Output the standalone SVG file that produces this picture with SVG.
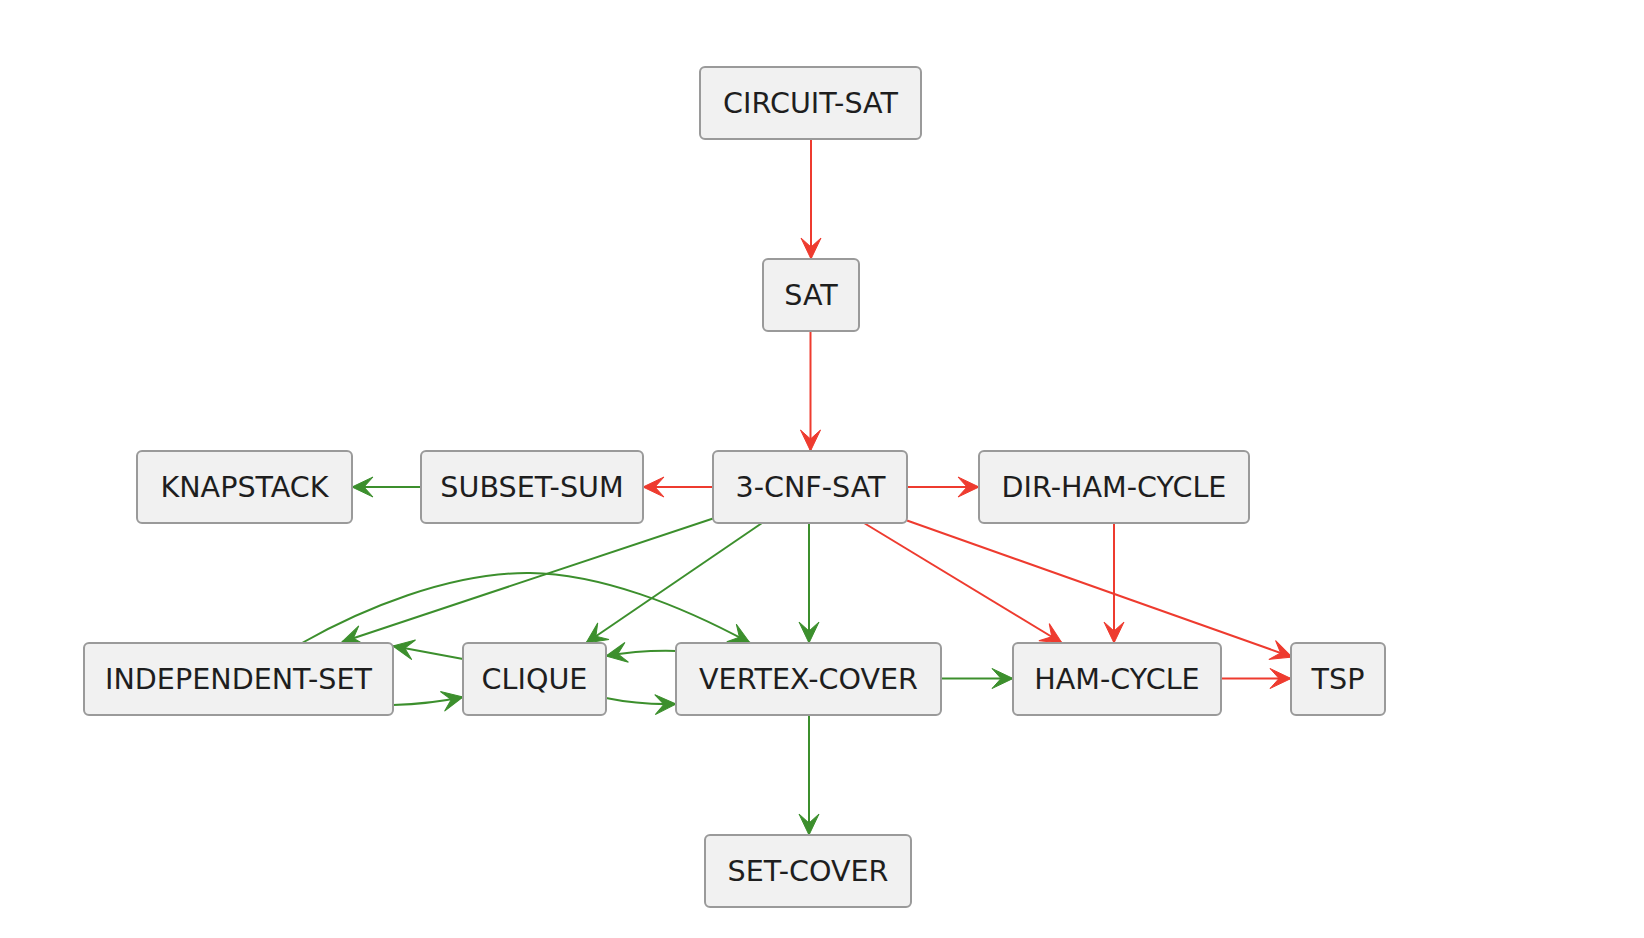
<svg xmlns="http://www.w3.org/2000/svg" width="1644" height="938" viewBox="0 0 1644 938">
  <style>
    .node rect { fill: #F1F1F1; stroke: #9A9A9A; stroke-width: 2; }
    .node text { font-family: "DejaVu Sans", "Liberation Sans", sans-serif; font-size: 28.6px; fill: #1E1E1E; text-anchor: middle; }
    .red { stroke: #EE3B2F; stroke-width: 2; fill: none; marker-end: url(#arrowRed); }
    .green { stroke: #3C8F2D; stroke-width: 2; fill: none; marker-end: url(#arrowGreen); }
  </style>
  <defs>
    <marker id="arrowRed" viewBox="-23 -12 25 24" refX="0" refY="0" markerWidth="25" markerHeight="24" markerUnits="userSpaceOnUse" orient="auto">
      <path d="M0,0 L-21,-10 L-12,0 L-21,10 Z" fill="#EE3B2F" stroke="#EE3B2F" stroke-width="1" stroke-linejoin="miter"/>
    </marker>
    <marker id="arrowGreen" viewBox="-23 -12 25 24" refX="0" refY="0" markerWidth="25" markerHeight="24" markerUnits="userSpaceOnUse" orient="auto">
      <path d="M0,0 L-21,-10 L-12,0 L-21,10 Z" fill="#3C8F2D" stroke="#3C8F2D" stroke-width="1" stroke-linejoin="miter"/>
    </marker>
  </defs>
  <rect x="0" y="0" width="1644" height="938" fill="#FFFFFF"/>

  <g id="connectors">
    <path class="red" d="M811,139 L811,259"/>
    <path class="red" d="M810.5,331 L810.5,451"/>
    <path class="red" d="M713,487 L643,487"/>
    <path class="red" d="M907,487 L979,487"/>
    <path class="red" d="M864,523 L1062,643"/>
    <path class="red" d="M907,520.5 L1292,657"/>
    <path class="red" d="M1114,523 L1114,643"/>
    <path class="red" d="M1221,678.5 L1291,678.5"/>
    <path class="green" d="M421,487 L352,487"/>
    <path class="green" d="M809,523 L809,643"/>
    <path class="green" d="M762,523 L586,643"/>
    <path class="green" d="M713,518.5 L342,642"/>
    <path class="green" d="M302,643 C360,610 450,572 530,573 C600,574 680,605 750,643"/>
    <path class="green" d="M463,659 L393,646"/>
    <path class="green" d="M393,705 Q430,704 463,697"/>
    <path class="green" d="M676,651 Q640,650 606,656"/>
    <path class="green" d="M606,698 Q640,705 676,704"/>
    <path class="green" d="M941,678.5 L1013,678.5"/>
    <path class="green" d="M809,715 L809,835"/>
  </g>

  <g id="circuit-sat" class="node"><rect x="700" y="67" width="221" height="72" rx="5"/><text x="810.5" y="112.5">CIRCUIT-SAT</text></g>
  <g id="sat" class="node"><rect x="763" y="259" width="96" height="72" rx="5"/><text x="811" y="304.5">SAT</text></g>
  <g id="three-cnf-sat" class="node"><rect x="713" y="451" width="194" height="72" rx="5"/><text x="810.5" y="496.5">3-CNF-SAT</text></g>
  <g id="knapstack" class="node"><rect x="137" y="451" width="215" height="72" rx="5"/><text x="244.5" y="496.5">KNAPSTACK</text></g>
  <g id="subset-sum" class="node"><rect x="421" y="451" width="222" height="72" rx="5"/><text x="532" y="496.5">SUBSET-SUM</text></g>
  <g id="dir-ham-cycle" class="node"><rect x="979" y="451" width="270" height="72" rx="5"/><text x="1114" y="496.5">DIR-HAM-CYCLE</text></g>
  <g id="independent-set" class="node"><rect x="84" y="643" width="309" height="72" rx="5"/><text x="238.5" y="688.5">INDEPENDENT-SET</text></g>
  <g id="clique" class="node"><rect x="463" y="643" width="143" height="72" rx="5"/><text x="534.5" y="688.5">CLIQUE</text></g>
  <g id="vertex-cover" class="node"><rect x="676" y="643" width="265" height="72" rx="5"/><text x="808.5" y="688.5">VERTEX-COVER</text></g>
  <g id="ham-cycle" class="node"><rect x="1013" y="643" width="208" height="72" rx="5"/><text x="1117" y="688.5">HAM-CYCLE</text></g>
  <g id="tsp" class="node"><rect x="1291" y="643" width="94" height="72" rx="5"/><text x="1338" y="688.5">TSP</text></g>
  <g id="set-cover" class="node"><rect x="705" y="835" width="206" height="72" rx="5"/><text x="808" y="880.5">SET-COVER</text></g>
</svg>
